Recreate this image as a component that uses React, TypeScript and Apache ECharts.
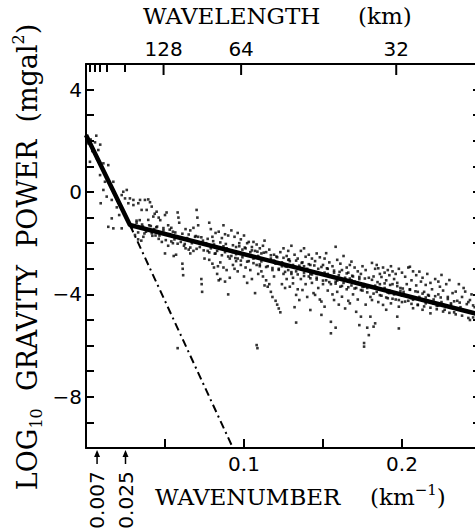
import React, { useEffect, useRef } from "react";
import * as echarts from "echarts";

const TWO_PI = 2 * Math.PI;

// Top axis (wavelength, km) — labelled and minor tick wavelengths
const wavelengthLabels = [128, 64, 32];
const wavelengthMinorTicks = [2500, 1100, 700, 480, 256];

// Bottom axis labels (wavenumber, km^-1)
const xTickLabels = [0.1, 0.2];
// Left axis labels (log10 power)
const yTickLabels = [4, 0, -4, -8];

// Marked wavenumbers below the axis
const markerWavenumbers = [0.007, 0.025];

// Fitted two-segment line and its dash-dot extension
const fitLine = [
  [0, 2.23],
  [0.0278, -1.29],
  [0.25, -4.8],
];
const steepExtension = [
  [0.0278, -1.29],
  [0.093, -10],
];

// Observed spectrum estimates (wavenumber, log10 power) — scattered cloud
const spectrumPoints = [
  [0.0015,1.90],[0.003,2.05],[0.0057,1.94],[0.0078,1.64],[0.0025,1.18],[0.011,1.12],[0.0141,1.05],[0.0089,0.66],[0.012,0.40],[0.011,0.08],
  [0.0173,0.40],[0.0131,-0.18],[0.0163,-0.31],[0.0093,-0.44],[0.0236,0.01],[0.0258,0.08],[0.0226,-0.12],[0.0247,-0.25],[0.0163,-1.03],[0.0173,-1.42],
  [0.0226,-1.42],[0.0141,-1.36],[0.004,1.6],[0.007,1.3],[0.0195,-0.6],[0.021,-0.9],[0.0065,2.2],[0.009,1.85],
  [0.0278,-0.25],[0.030,-0.31],[0.0342,-0.31],[0.0373,-0.31],[0.0394,-0.29],[0.0268,-0.44],[0.030,-0.51],[0.0331,-0.44],[0.0352,-0.70],[0.0384,-0.70],
  [0.0416,-0.57],[0.0447,-0.77],[0.0394,-1.09],[0.0426,-0.96],[0.031,-1.68],[0.0363,-1.75],[0.0416,-1.61],[0.033,-1.85],[0.035,-1.9],[0.032,-1.2],
  [0.036,-1.35],[0.040,-1.3],[0.043,-1.45],[0.044,-1.7],[0.038,-1.55],[0.029,-1.4],[0.034,-1.1],[0.0405,-0.4],[0.0435,-0.85],[0.046,-1.0],
  [0.047,-1.1],[0.048,-1.95],[0.049,-1.5],[0.050,-2.4],[0.051,-0.8],[0.052,-1.3],[0.053,-1.65],[0.054,-1.4],[0.055,-2.0],[0.0555,-2.5],
  [0.056,-1.85],[0.057,-2.45],[0.058,-0.8],[0.0585,-1.0],[0.059,-1.2],[0.060,-1.95],[0.058,-6.1],[0.0465,-1.7],[0.052,-2.1],[0.055,-1.55],[0.050,-0.9],[0.045,-1.35],
  [0.061,-2.8],[0.0612,-3.0],[0.0615,-3.25],[0.062,-2.1],[0.063,-1.45],[0.064,-1.8],[0.065,-2.25],[0.066,-1.5],[0.067,-2.0],[0.068,-1.4],
  [0.068,-2.3],[0.069,-1.75],[0.070,-0.7],[0.0705,-1.0],[0.071,-1.3],[0.072,-2.15],[0.073,-3.4],[0.0732,-3.6],[0.0735,-3.9],[0.074,-1.9],
  [0.075,-2.6],[0.063,-2.2],[0.066,-2.4],[0.071,-1.75],
  [0.076,-2.0],[0.077,-2.3],[0.078,-1.2],[0.078,-2.65],[0.079,-1.45],[0.080,-2.8],[0.080,-1.75],[0.081,-2.95],[0.082,-1.6],[0.082,-2.4],
  [0.083,-3.2],[0.0835,-2.9],[0.084,-3.45],[0.084,-1.55],[0.085,-3.4],[0.085,-2.75],[0.086,-1.8],[0.087,-1.3],[0.087,-2.95],[0.088,-3.5],
  [0.088,-1.65],[0.089,-2.2],[0.089,-3.05],[0.090,-4.0],[0.090,-1.7],[0.091,-3.35],[0.091,-2.6],[0.092,-1.5],[0.092,-2.5],[0.093,-2.85],
  [0.079,-2.2],[0.081,-2.05],[0.083,-2.3],[0.086,-2.2],[0.088,-2.35],
  [0.094,-1.75],[0.094,-3.0],[0.095,-2.15],[0.095,-2.7],[0.096,-1.6],[0.096,-3.1],[0.097,-2.4],[0.097,-2.0],[0.098,-2.85],[0.098,-1.85],
  [0.099,-2.55],[0.100,-3.3],[0.100,-1.7],[0.101,-2.2],[0.101,-2.95],[0.102,-3.55],[0.102,-2.0],[0.103,-2.7],[0.103,-1.95],[0.104,-3.05],
  [0.104,-2.35],[0.105,-3.4],[0.105,-2.15],[0.099,-2.25],[0.096,-2.6],[0.093,-2.35],[0.108,-5.98],[0.1085,-6.1],
  [0.106,-2.6],[0.106,-1.95],[0.107,-3.95],[0.107,-2.3],[0.108,-2.85],[0.108,-2.05],[0.109,-2.5],[0.110,-2.9],[0.110,-2.2],[0.111,-3.1],
  [0.111,-2.4],[0.112,-3.3],[0.112,-2.1],[0.113,-2.65],[0.113,-3.65],[0.114,-2.35],[0.114,-3.45],[0.115,-2.9],[0.115,-3.7],[0.116,-2.25],
  [0.116,-3.6],[0.117,-3.9],[0.117,-2.6],[0.118,-3.05],[0.118,-4.1],[0.119,-2.45],[0.119,-3.3],[0.120,-4.25],[0.120,-2.8],[0.121,-2.55],
  [0.121,-4.4],[0.109,-3.2],[0.113,-1.9],
  [0.122,-4.55],[0.122,-3.0],[0.123,-2.35],[0.123,-4.7],[0.124,-3.6],[0.124,-2.75],[0.125,-3.2],[0.125,-2.2],[0.126,-3.75],[0.126,-2.9],
  [0.127,-2.5],[0.127,-3.4],[0.128,-3.05],[0.128,-2.3],[0.129,-3.7],[0.129,-2.7],[0.130,-3.2],[0.130,-2.1],[0.131,-3.57],[0.131,-2.85],
  [0.132,-4.5],[0.132,-2.45],[0.133,-4.02],[0.133,-5.1],[0.133,-3.1],[0.134,-2.6],[0.134,-3.8],[0.135,-4.22],[0.135,-2.95],[0.124,-2.9],
  [0.128,-2.65],[0.131,-3.35],
  [0.136,-2.3],[0.136,-3.4],[0.137,-3.83],[0.137,-2.75],[0.138,-3.15],[0.138,-2.2],[0.139,-2.53],[0.139,-3.6],[0.140,-3.0],[0.140,-4.1],
  [0.141,-2.45],[0.141,-3.3],[0.142,-4.61],[0.142,-2.85],[0.143,-3.55],[0.143,-2.6],[0.144,-3.1],[0.144,-3.95],[0.145,-4.02],[0.145,-2.7],
  [0.146,-3.35],[0.146,-2.4],[0.147,-3.75],[0.147,-3.0],[0.148,-2.55],[0.148,-4.2],[0.149,-4.28],[0.149,-4.8],[0.149,-3.2],[0.150,-2.85],
  [0.150,-3.6],[0.138,-2.9],[0.142,-3.2],[0.146,-3.2],
  [0.151,-4.48],[0.151,-2.6],[0.152,-2.39],[0.152,-3.45],[0.153,-3.0],[0.153,-3.85],[0.154,-2.75],[0.154,-3.3],[0.155,-5.07],[0.155,-5.52],
  [0.155,-3.6],[0.156,-2.9],[0.156,-4.0],[0.157,-4.22],[0.157,-3.15],[0.158,-2.14],[0.158,-5.3],[0.158,-3.5],[0.159,-2.65],[0.159,-3.9],
  [0.160,-3.25],[0.160,-4.4],[0.161,-2.8],[0.161,-3.7],[0.162,-4.09],[0.162,-3.05],[0.163,-2.5],[0.163,-3.55],[0.164,-3.35],[0.164,-4.55],
  [0.165,-2.95],[0.165,-3.8],[0.153,-3.2],[0.157,-3.35],[0.161,-3.4],
  [0.166,-3.15],[0.166,-4.25],[0.167,-4.35],[0.167,-2.85],[0.168,-2.72],[0.168,-3.65],[0.169,-3.3],[0.169,-4.0],[0.170,-3.5],[0.170,-2.95],
  [0.171,-4.68],[0.171,-3.75],[0.172,-3.1],[0.172,-4.2],[0.173,-3.4],[0.173,-5.2],[0.174,-4.87],[0.174,-3.2],[0.175,-3.85],[0.175,-2.9],
  [0.176,-6.04],[0.176,-5.9],[0.176,-3.6],[0.177,-4.4],[0.177,-3.05],[0.178,-3.75],[0.178,-5.3],[0.179,-5.59],[0.179,-3.35],[0.180,-4.87],
  [0.180,-4.1],[0.168,-3.45],[0.172,-3.55],[0.176,-3.7],
  [0.181,-2.77],[0.181,-4.22],[0.182,-5.26],[0.182,-3.3],[0.183,-5.13],[0.183,-3.0],[0.184,-3.9],[0.184,-2.85],[0.185,-2.98],[0.185,-4.3],
  [0.186,-3.2],[0.186,-3.6],[0.187,-3.32],[0.187,-4.05],[0.188,-4.41],[0.188,-2.95],[0.189,-3.75],[0.189,-3.15],[0.190,-4.6],[0.190,-3.45],
  [0.191,-3.05],[0.191,-4.15],[0.192,-3.85],[0.192,-3.25],[0.193,-2.9],[0.193,-4.35],[0.194,-3.6],[0.194,-3.1],[0.195,-4.0],[0.195,-3.4],
  [0.184,-3.75],[0.188,-3.8],[0.192,-3.95],
  [0.196,-3.2],[0.196,-4.2],[0.197,-4.87],[0.197,-3.55],[0.198,-4.48],[0.198,-5.33],[0.198,-3.0],[0.199,-3.75],[0.200,-4.3],[0.200,-3.15],
  [0.201,-3.9],[0.202,-3.31],[0.202,-4.05],[0.203,-3.6],[0.204,-2.95],[0.204,-4.25],[0.205,-2.92],[0.205,-3.8],[0.206,-3.45],[0.207,-4.54],
  [0.207,-3.1],[0.208,-4.15],[0.209,-3.65],[0.209,-3.25],[0.210,-4.4],[0.210,-3.9],[0.200,-4.05],[0.206,-4.15],
  [0.211,-3.11],[0.211,-4.1],[0.212,-3.5],[0.213,-4.6],[0.213,-3.35],[0.214,-3.9],[0.215,-3.63],[0.215,-4.35],[0.216,-3.2],[0.217,-4.05],
  [0.218,-4.74],[0.218,-3.55],[0.219,-3.8],[0.220,-4.2],[0.221,-3.4],[0.222,-4.45],[0.223,-3.5],[0.223,-4.0],[0.224,-3.7],[0.225,-3.24],
  [0.225,-4.3],[0.216,-4.25],[0.220,-4.35],
  [0.226,-3.85],[0.227,-4.6],[0.228,-3.6],[0.229,-4.1],[0.230,-3.44],[0.231,-4.35],[0.232,-3.95],[0.233,-4.7],[0.234,-3.89],[0.235,-4.25],
  [0.236,-3.6],[0.237,-4.5],[0.238,-4.1],[0.239,-3.75],[0.240,-3.89],[0.241,-4.65],[0.242,-4.3],[0.243,-4.22],[0.243,-5.0],[0.244,-4.0],
  [0.245,-4.9],[0.246,-4.5],
];

// Observed spectrum estimates — dense core hugging the fitted line
const spectrumCorePoints = [
  [0.032,-1.12],[0.033,-1.58],[0.0355,-1.27],[0.037,-1.62],[0.041,-1.33],[0.042,-1.71],[0.0445,-1.38],[0.046,-1.83],[0.049,-1.41],[0.0505,-1.88],
  [0.053,-1.47],[0.054,-1.93],[0.0565,-1.58],[0.058,-2.02],[0.061,-1.63],[0.0625,-2.03],[0.065,-1.66],[0.066,-2.17],[0.0695,-1.72],[0.070,-2.22],
  [0.073,-1.77],[0.0745,-2.28],[0.077,-1.83],[0.078,-2.36],[0.0805,-1.92],[0.0815,-2.41],[0.085,-1.97],[0.086,-2.47],[0.0885,-2.03],[0.090,-2.52],
  [0.093,-2.08],[0.0945,-2.58],[0.097,-2.12],[0.098,-2.68],[0.1005,-2.17],[0.102,-2.72],[0.105,-2.28],[0.106,-2.78],[0.1085,-2.33],[0.110,-2.83],
  [0.1125,-2.37],[0.114,-2.93],[0.117,-2.47],[0.118,-2.97],[0.1205,-2.52],[0.122,-3.04],[0.125,-2.57],[0.126,-3.12],[0.1285,-2.63],[0.130,-3.13],
  [0.133,-2.68],[0.134,-3.22],[0.1365,-2.77],[0.138,-3.28],[0.141,-2.82],[0.142,-3.37],[0.1445,-2.87],[0.146,-3.42],[0.149,-2.93],[0.150,-3.46],
  [0.1525,-2.98],[0.154,-3.52],[0.157,-3.07],[0.158,-3.58],[0.1605,-3.12],[0.162,-3.67],[0.165,-3.18],[0.166,-3.72],[0.1685,-3.27],[0.170,-3.77],
  [0.173,-3.32],[0.174,-3.83],[0.1765,-3.38],[0.178,-3.92],[0.181,-3.43],[0.182,-3.97],[0.1845,-3.52],[0.186,-4.03],[0.189,-3.57],[0.190,-4.12],
  [0.1925,-3.63],[0.194,-4.17],[0.197,-3.68],[0.198,-4.22],[0.2005,-3.77],[0.202,-4.28],[0.205,-3.82],[0.206,-4.37],[0.2085,-3.88],[0.210,-4.42],
  [0.213,-3.97],[0.214,-4.47],[0.2165,-4.02],[0.218,-4.52],[0.221,-4.07],[0.222,-4.58],[0.2245,-4.12],[0.226,-4.67],[0.229,-4.18],[0.230,-4.72],
  [0.233,-4.27],[0.234,-4.78],[0.2365,-4.32],[0.238,-4.83],[0.241,-4.38],[0.242,-4.92],[0.245,-4.43],
  [0.087,-2.12],[0.095,-2.43],[0.103,-2.46],[0.111,-2.71],[0.119,-2.68],[0.127,-2.92],[0.135,-2.88],[0.143,-3.22],[0.151,-3.15],[0.159,-3.46],
  [0.167,-3.38],[0.175,-3.71],[0.183,-3.66],[0.191,-3.93],[0.199,-3.87],[0.207,-4.21],[0.215,-4.12],[0.223,-4.44],[0.231,-4.41],[0.239,-4.63],
];

const X_MIN = 0;
const X_MAX = 0.25;
const Y_MIN = -10;
const Y_MAX = 5;

const SANS = "DejaVu Sans";
const SERIF = "DejaVu Serif";

const near = (a: number, b: number) => Math.abs(a - b) < 1e-9;

export default function App() {
  const ref = useRef<HTMLDivElement>(null);

  useEffect(() => {
    if (!ref.current) return;
    const chart = echarts.init(ref.current, null, { renderer: "svg" });

    const labelK = wavelengthLabels.map((w) => TWO_PI / w);
    const minorK = wavelengthMinorTicks.map((w) => TWO_PI / w);

    const axisLine = { show: true, onZero: false, lineStyle: { color: "#000", width: 2 } };
    const tickStyle = { color: "#000", width: 2 };

    chart.setOption({
      animation: false,
      backgroundColor: "#fff",
      grid: { left: 86, top: 64, right: 19, bottom: 83, containLabel: false },
      xAxis: [
        {
          type: "value",
          position: "bottom",
          min: X_MIN,
          max: X_MAX,
          interval: 0.05,
          axisLine,
          axisTick: { show: true, inside: true, length: 9, lineStyle: tickStyle },
          axisLabel: {
            color: "#000",
            fontFamily: SANS,
            fontSize: 20,
            margin: 6,
            formatter: (v: number) => (xTickLabels.some((t) => near(t, v)) ? String(v) : ""),
          },
          splitLine: { show: false },
        },
        {
          type: "value",
          position: "top",
          min: X_MIN,
          max: X_MAX,
          axisLine,
          axisTick: { show: true, inside: true, length: 8, customValues: minorK, lineStyle: tickStyle },
          axisLabel: {
            color: "#000",
            fontFamily: SANS,
            fontSize: 20,
            margin: 5,
            customValues: labelK,
            formatter: (v: number) => String(Math.round(TWO_PI / v)),
          },
          splitLine: { show: false },
        },
      ],
      yAxis: [
        {
          type: "value",
          position: "left",
          min: Y_MIN,
          max: Y_MAX,
          interval: 1,
          axisLine,
          axisTick: { show: true, inside: true, length: 8, lineStyle: tickStyle },
          axisLabel: {
            color: "#000",
            fontFamily: SANS,
            fontSize: 20,
            margin: 4,
            formatter: (v: number) =>
              yTickLabels.some((t) => near(t, v)) ? (v < 0 ? "\u2212" + Math.abs(v) : String(v)) : "",
          },
          splitLine: { show: false },
        },
        {
          type: "value",
          position: "right",
          min: Y_MIN,
          max: Y_MAX,
          interval: 1,
          axisLine,
          axisTick: { show: true, inside: true, length: 8, lineStyle: tickStyle },
          axisLabel: { show: false },
          splitLine: { show: false },
        },
      ],
      series: [
        {
          type: "scatter",
          data: spectrumPoints,
          symbol: "rect",
          symbolSize: 2.6,
          itemStyle: { color: "#000" },
          z: 1,
        },
        {
          type: "scatter",
          data: spectrumCorePoints,
          symbol: "rect",
          symbolSize: 2.6,
          itemStyle: { color: "#000" },
          z: 1,
        },
        {
          type: "line",
          data: fitLine,
          showSymbol: false,
          symbol: "none",
          lineStyle: { color: "#000", width: 4.5 },
          z: 3,
        },
        {
          type: "line",
          data: steepExtension,
          showSymbol: false,
          symbol: "none",
          lineStyle: { color: "#000", width: 2, type: [8, 4, 2, 4] },
          z: 2,
        },
      ],
    });

    const yb = chart.convertToPixel({ yAxisIndex: 0 }, Y_MIN) as number;
    const yt = chart.convertToPixel({ yAxisIndex: 0 }, Y_MAX) as number;
    const extraGraphics: any[] = [];

    // Major wavelength ticks on the top axis (same wavenumber scale as the bottom axis)
    labelK.forEach((k) => {
      const px = chart.convertToPixel({ xAxisIndex: 0 }, k) as number;
      extraGraphics.push({
        type: "line",
        shape: { x1: px, y1: yt, x2: px, y2: yt + 11 },
        style: { stroke: "#000", lineWidth: 2 },
        z: 10,
      });
    });

    // Arrow markers with their wavenumbers below the bottom axis
    markerWavenumbers.forEach((k) => {
      const px = chart.convertToPixel({ xAxisIndex: 0 }, k) as number;
      extraGraphics.push(
        {
          type: "line",
          shape: { x1: px, y1: yb + 16, x2: px, y2: yb + 6 },
          style: { stroke: "#000", lineWidth: 1.5 },
        },
        {
          type: "polygon",
          shape: { points: [[px, yb + 2], [px - 3, yb + 9], [px + 3, yb + 9]] },
          style: { fill: "#000" },
        },
        {
          type: "text",
          x: px,
          y: yb + 52,
          rotation: Math.PI / 2,
          style: {
            text: String(k),
            fontFamily: SANS,
            fontSize: 20,
            fill: "#000",
            align: "center",
            verticalAlign: "middle",
          },
        }
      );
    });

    chart.setOption({
      graphic: [
        {
          type: "text",
          x: 143,
          y: 16,
          style: { text: "WAVELENGTH", fontFamily: SERIF, fontSize: 23, fill: "#000", align: "left", verticalAlign: "middle" },
        },
        {
          type: "text",
          x: 358,
          y: 16,
          style: { text: "(km)", fontFamily: SERIF, fontSize: 23, fill: "#000", align: "left", verticalAlign: "middle" },
        },
        {
          type: "text",
          x: 155,
          y: 497,
          style: { text: "WAVENUMBER", fontFamily: SERIF, fontSize: 23, fill: "#000", align: "left", verticalAlign: "middle" },
        },
        {
          type: "text",
          x: 370,
          y: 497,
          style: {
            text: "(km{sup|\u22121})",
            fontFamily: SERIF,
            fontSize: 23,
            lineHeight: 30,
            fill: "#000",
            align: "left",
            verticalAlign: "middle",
            rich: {
              sup: { fontFamily: SERIF, fontSize: 15, lineHeight: 15, fill: "#000", verticalAlign: "top" },
            },
          },
        },
        {
          type: "text",
          x: 27,
          y: 257,
          rotation: Math.PI / 2,
          style: {
            text: "LOG{sub|10}  GRAVITY  POWER  (mgal{sup|2})",
            fontFamily: SERIF,
            fontSize: 27,
            lineHeight: 34,
            fill: "#000",
            align: "center",
            verticalAlign: "middle",
            rich: {
              sub: { fontFamily: SERIF, fontSize: 16, lineHeight: 16, fill: "#000", verticalAlign: "bottom" },
              sup: { fontFamily: SERIF, fontSize: 16, lineHeight: 16, fill: "#000", verticalAlign: "top" },
            },
          },
        },
        ...extraGraphics,
      ],
    });

    return () => chart.dispose();
  }, []);

  return (
    <div style={{ position: "fixed", left: 0, top: 0, width: 475, height: 531, overflow: "hidden", background: "#fff" }}>
      <div ref={ref} style={{ width: 500, height: 531 }} />
    </div>
  );
}
